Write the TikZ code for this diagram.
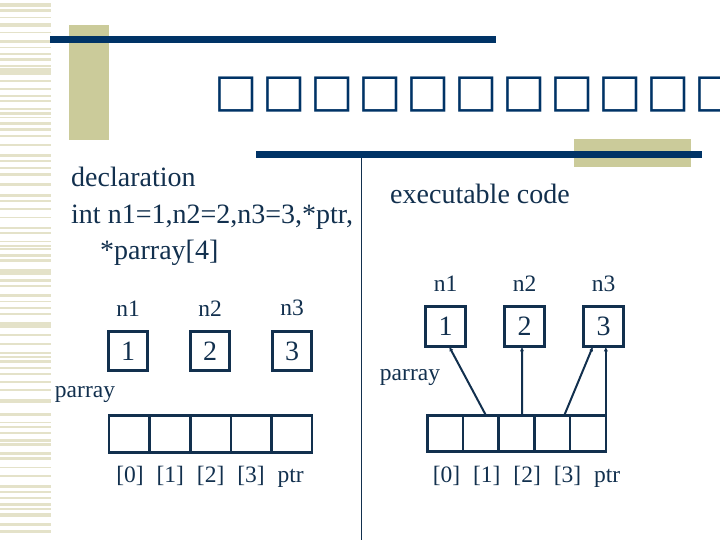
\documentclass[tikz,border=0pt]{standalone}
\usepackage{fontspec}
\setmainfont{Liberation Serif}
\newfontfamily\symfont[LetterSpace=9.8]{DejaVu Sans}
\usetikzlibrary{arrows.meta,positioning}
\definecolor{sblue}{HTML}{003366}
\definecolor{sink}{HTML}{12304E}
\definecolor{stan}{HTML}{CBCB9A}
\definecolor{lstripe}{HTML}{E4E2C9}
\tikzset{
 txt/.style={text=sink,inner sep=0pt,font=\fontsize{28}{32}\selectfont},
 lbl/.style={text=sink,inner sep=0pt,font=\fontsize{23.5}{27}\selectfont},
 valbox/.style={draw=sink,line width=2.6pt,minimum size=39.5pt,inner sep=0pt,outer sep=0pt,
   text=sink,font=\fontsize{28}{32}\selectfont},
 cell/.style={draw=sink,line width=2.6pt,inner sep=0pt,outer sep=0pt},
 lcell/.style={cell,minimum width=40.6pt,minimum height=37.4pt},
 rcell/.style={cell,minimum width=35.7pt,minimum height=36.4pt},
 ptrarrow/.style={-{Latex[length=5pt,width=4pt]},line width=2pt,draw=sink}
}
\begin{document}
\begin{tikzpicture}[x=1pt,y=-1pt]
 \useasboundingbox (0,0) rectangle (720,540);
 % slide decoration
 \foreach \y/\h in {3.3/3.4,9.3/2.4,17/1.3,22.7/4,32/1.3,40/3,47/1.3,53/2,58/3,65/2,68.5/6.5,
   80/2,88/2,95/2,100/2,108/2,112/3,117/1.3,122/3,128/3,135/2,144/2,154/3,160/2,167/2,173/3,
   182.7/3.3,194/3.3,200/1.7,208.3/1.7,216.7/1.6,226.7/2.6,231.7/2.3,240.7/1.3,245/1.7,248.3/1.7,
   254/2.7,259.3/2.4,269.3/5.7,279.3/2.4,285/2.3,294/2.7,300.7/1.6,307.3/2,312.7/2.3,321.7/6.6,
   334/1.7,343.3/1.7,351.7/2.3,356/2.3,360/2.7,366.7/2.6,372.7/2.3,380.7/2,389.3/1.4,399.3/4,
   413.3/2.7,421.7/1.6,426/2.3,431.7/2.3,439.3/2.4,443.3/2.7,451.7/3.3,457.3/2.7,466.7/1.6,
   475/1.7,485/3.3,490.7/2.6,496.7/2.3,503.3/2.4,508.3/1.7,513.3/3.4,523.3/2.4,530/3.3}
   \fill[lstripe] (0,\y) rectangle (50.7,\y+\h);
 \fill[stan] (69,25) rectangle (109,140);
 \fill[sblue] (50,36) rectangle (496,43);
 \fill[stan] (574,139) rectangle (691,167);
 \fill[sblue] (256,151) rectangle (702,158);
 \draw[sink,line width=1pt] (361,158) -- (361,540);
 \node[anchor=base west,inner sep=0pt,text=sblue,font=\symfont\fontsize{46}{52}\selectfont]
   (title) at (214.5,106.3) {□□□□□□□□□□□□};

 % declaration side
 \node[txt,anchor=base west] (decl) at (71,187) {declaration};
 \node[txt,anchor=base west] (declvars) at (71,224) {int n1=1,n2=2,n3=3,*ptr,};
 \node[txt,anchor=base west] (declarr) at (100,259) {*parray[4]};
 \node[valbox] (ln1) at (128,351) {1};
 \node[valbox,right=42.5pt of ln1] (ln2) {2};
 \node[valbox,right=42.5pt of ln2] (ln3) {3};
 \node[lbl,above=15pt of ln1] (ln1lab) {n1};
 \node[lbl,above=15pt of ln2] (ln2lab) {n2};
 \node[lbl,above=15pt of ln3] (ln3lab) {n3};
 \node[lbl,anchor=base] (lpar) at (85,397) {parray};
 \node[lcell] (lc0) at (129.3,434) {};
 \node[lcell,right=0pt of lc0] (lc1) {};
 \node[lcell,right=0pt of lc1] (lc2) {};
 \node[lcell,right=0pt of lc2] (lc3) {};
 \node[lcell,right=0pt of lc3] (lc4) {};
 \node[lbl,anchor=base] (lidx) at (210,482)
   {[0]\hspace{0.55em}[1]\hspace{0.55em}[2]\hspace{0.55em}[3]\hspace{0.55em}ptr};

 % executable side
 \node[txt,anchor=base west] (exec) at (390,204) {executable code};
 \node[valbox] (rn1) at (445.5,326.5) {1};
 \node[valbox,right=39.5pt of rn1] (rn2) {2};
 \node[valbox,right=39.5pt of rn2] (rn3) {3};
 \node[lbl,above=15pt of rn1] (rn1lab) {n1};
 \node[lbl,above=15pt of rn2] (rn2lab) {n2};
 \node[lbl,above=15pt of rn3] (rn3lab) {n3};
 \node[lbl,anchor=base] (rpar) at (410,380) {parray};
 \node[rcell] (rc0) at (445.2,433.5) {};
 \node[rcell,right=0pt of rc0] (rc1) {};
 \node[rcell,right=0pt of rc1] (rc2) {};
 \node[rcell,right=0pt of rc2] (rc3) {};
 \node[rcell,right=0pt of rc3] (rc4) {};
 \node[lbl,anchor=base] (ridx) at (526.5,482)
   {[0]\hspace{0.55em}[1]\hspace{0.55em}[2]\hspace{0.55em}[3]\hspace{0.55em}ptr};
 \draw[ptrarrow] ([xshift=5pt]rc1.north) -- ([xshift=3.5pt]rn1.south);
 \draw[ptrarrow] ([xshift=5.5pt]rc2.north) -- ([xshift=-2.5pt]rn2.south);
 \draw[ptrarrow] ([xshift=12pt]rc3.north) -- ([xshift=-10.5pt]rn3.south);
 \draw[ptrarrow] (rc4.north east) -- (rc4.north east |- rn3.south);
\end{tikzpicture}
\end{document}
